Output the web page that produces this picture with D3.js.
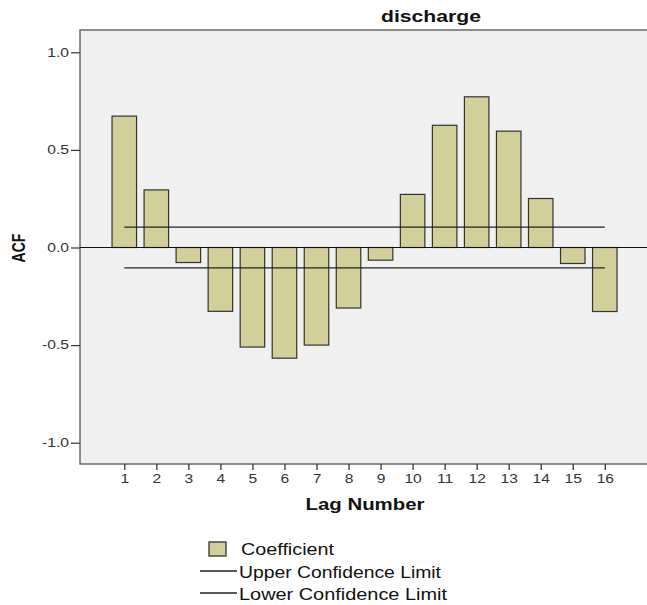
<!DOCTYPE html>
<html><head><meta charset="utf-8">
<script src="https://cdn.jsdelivr.net/npm/d3@7"></script>
<style>body{margin:0;background:#fff}svg{display:block;font-family:"Liberation Sans",Arial,sans-serif}</style>
</head><body>
<script>
const lags = [1,2,3,4,5,6,7,8,9,10,11,12,13,14,15,16];
const acf = [0.673,0.295,-0.077,-0.327,-0.51,-0.567,-0.50,-0.31,-0.065,0.272,0.626,0.772,0.596,0.251,-0.082,-0.328];
const upperLimit = [0.104,0.104,0.104,0.104,0.104,0.104,0.104,0.104,0.104,0.104,0.104,0.104,0.104,0.104,0.104,0.104];
const lowerLimit = [-0.104,-0.104,-0.104,-0.104,-0.104,-0.104,-0.104,-0.104,-0.104,-0.104,-0.104,-0.104,-0.104,-0.104,-0.104,-0.104];
const yTicks = [-1.0,-0.5,0.0,0.5,1.0];
const legendItems = ["Coefficient","Upper Confidence Limit","Lower Confidence Limit"];

const W=647,H=605;
const svg=d3.select("body").append("svg").attr("width",W).attr("height",H);
const plot={left:80,top:30,right:650,bottom:464};
const y=d3.scaleLinear().domain([-1,1]).range([442.7,52.3]);
const x=d3.scaleLinear().domain([1,16]).range([124.3,604.8]);
const bw=24.5;
const STRETCH=1.3;
function stretch(sel,f){
  sel.each(function(){
    const n=this; const L=n.getComputedTextLength();
    d3.select(n).attr("textLength",L*(f||STRETCH)).attr("lengthAdjust","spacingAndGlyphs");
  });
}
function fit(sel,w){ sel.attr("textLength",w).attr("lengthAdjust","spacingAndGlyphs"); }

svg.append("rect").attr("x",plot.left).attr("y",plot.top).attr("width",plot.right-plot.left).attr("height",plot.bottom-plot.top)
  .attr("fill","#f0f0f0").attr("stroke","#555").attr("stroke-width",1.3);

svg.append("text").attr("x",431).attr("y",22).attr("text-anchor","middle").attr("font-weight","bold").attr("font-size",16).attr("fill","#111").text("discharge").call(fit,100);

// y axis
const ya=svg.append("g").attr("transform",`translate(${plot.left},0)`)
  .call(d3.axisLeft(y).tickValues(yTicks).tickFormat(d=>d.toFixed(1)).tickSize(9).tickPadding(2));
ya.select(".domain").remove();
ya.selectAll(".tick line").attr("stroke","#333").attr("stroke-width",1.2);
ya.selectAll(".tick text").attr("font-size",12).attr("fill","#333").attr("font-family","Liberation Sans, Arial, sans-serif").call(stretch);

// x axis
const xa=svg.append("g").attr("transform",`translate(0,${plot.bottom})`)
  .call(d3.axisBottom(x).tickValues(lags).tickFormat(d=>String(d)).tickSize(6).tickPadding(4));
xa.select(".domain").remove();
xa.selectAll(".tick line").attr("stroke","#333").attr("stroke-width",1.3);
xa.selectAll(".tick text").attr("font-size",12).attr("fill","#333").attr("font-family","Liberation Sans, Arial, sans-serif").call(stretch);

svg.append("text").attr("x",365).attr("y",510).attr("text-anchor","middle").attr("font-weight","bold").attr("font-size",16).attr("fill","#111").text("Lag Number").call(fit,119);
svg.append("text").attr("transform","translate(25,248) scale(1.3,1) rotate(-90)").attr("text-anchor","middle").attr("font-weight","bold").attr("font-size",14).attr("fill","#111").text("ACF");

// bars
svg.append("g").selectAll("rect").data(lags).join("rect")
  .attr("x",(d)=>x(d)-bw/2).attr("width",bw)
  .attr("y",(d,i)=>y(Math.max(0,acf[i])))
  .attr("height",(d,i)=>Math.abs(y(acf[i])-y(0)))
  .attr("fill","#d3cf98").attr("stroke","#333").attr("stroke-width",1.2);

// zero line
svg.append("line").attr("x1",plot.left).attr("x2",plot.right).attr("y1",y(0)).attr("y2",y(0)).attr("stroke","#111").attr("stroke-width",1.2);

// confidence limits
const line=d3.line().x((d,i)=>x(lags[i])).y(d=>y(d));
svg.append("path").datum(upperLimit).attr("d",line).attr("fill","none").attr("stroke","#222").attr("stroke-width",1.3);
svg.append("path").datum(lowerLimit).attr("d",line).attr("fill","none").attr("stroke","#222").attr("stroke-width",1.3);

// legend
const lg=svg.append("g");
lg.append("rect").attr("x",209).attr("y",542).attr("width",17).attr("height",14).attr("fill","#d3cf98").attr("stroke","#333").attr("stroke-width",1.3);
const lgBase=[555,578,600], lgW=[93,202,208], lgLine=[null,571,593];
legendItems.forEach((t,i)=>{
  lg.append("text").attr("x",i===0?241:239).attr("y",lgBase[i]).attr("font-size",16).attr("fill","#111").text(t).call(fit,lgW[i]);
  if(i>0) lg.append("line").attr("x1",200).attr("x2",237).attr("y1",lgLine[i]).attr("y2",lgLine[i]).attr("stroke","#222").attr("stroke-width",1.4);
});
</script>
</body></html>
